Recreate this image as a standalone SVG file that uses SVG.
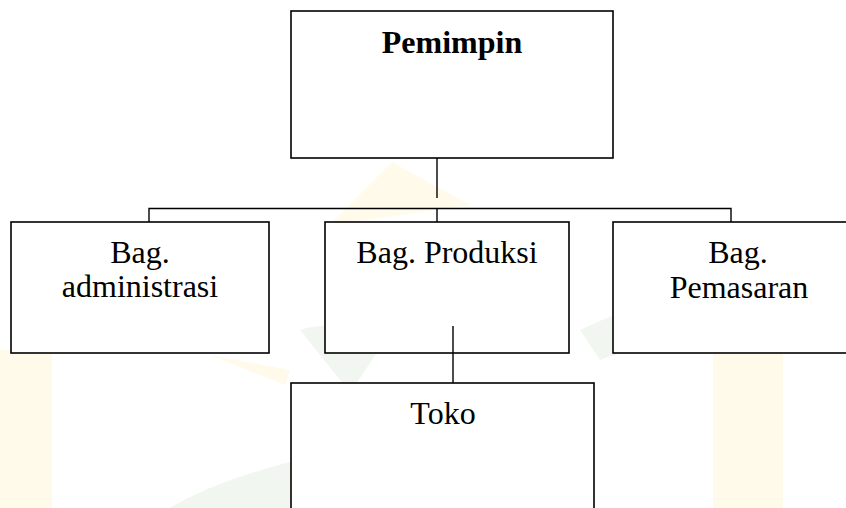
<svg xmlns="http://www.w3.org/2000/svg" width="846" height="508" viewBox="0 0 846 508">
<style>
.box{fill:#fff;stroke:#000;stroke-width:1.6}
.t{font-family:"Liberation Serif","Times New Roman",serif;font-size:32px;fill:#000;text-anchor:middle}
.b{font-weight:bold}
.c{fill:none;stroke:#000;stroke-width:1.4}
.wy{fill:#fffaea}
.wg{fill:#f1f7f0}
</style>
<rect width="846" height="508" fill="#fff"/>
<g id="watermark">
<rect class="wy" x="0" y="350" width="52" height="158"/>
<rect class="wy" x="713" y="353" width="70" height="155"/>
<polygon class="wy" points="392,162 470,205 330,225"/>
<polygon class="wy" points="210,355 290,370 285,385"/>
<path class="wg" d="M 300,330 C 330,320 360,330 385,340 C 360,380 335,410 320,455 C 250,470 200,490 170,508 L 290,508 C 330,480 360,460 400,455 Z"/>
<path class="wg" d="M 580,330 C 620,310 660,300 700,290 L 705,340 C 660,345 625,350 600,360 Z"/>
</g>
<g id="pemimpin">
<rect class="box" x="291" y="11" width="322" height="147"/>
<text class="t b" x="452" y="53">Pemimpin</text>
</g>
<g id="administrasi">
<rect class="box" x="11" y="222" width="258" height="131"/>
<text class="t" x="140" y="263">Bag.</text>
<text class="t" x="140" y="297">administrasi</text>
</g>
<g id="produksi">
<rect class="box" x="325" y="222" width="244" height="131"/>
<text class="t" x="447" y="263">Bag. Produksi</text>
</g>
<g id="pemasaran">
<rect class="box" x="613" y="222" width="252" height="131"/>
<text class="t" x="738" y="263">Bag.</text>
<text class="t" x="739" y="298">Pemasaran</text>
</g>
<g id="toko">
<rect class="box" x="291" y="383" width="303" height="140"/>
<text class="t" x="443" y="424">Toko</text>
</g>
<g id="connectors">
<line class="c" x1="437" y1="158" x2="437" y2="198"/>
<polyline class="c" points="149,222 149,208.5 731,208.5 731,222"/>
<line class="c" x1="437" y1="208.5" x2="437" y2="222"/>
<line class="c" x1="453" y1="326" x2="453" y2="383"/>
</g>
</svg>
